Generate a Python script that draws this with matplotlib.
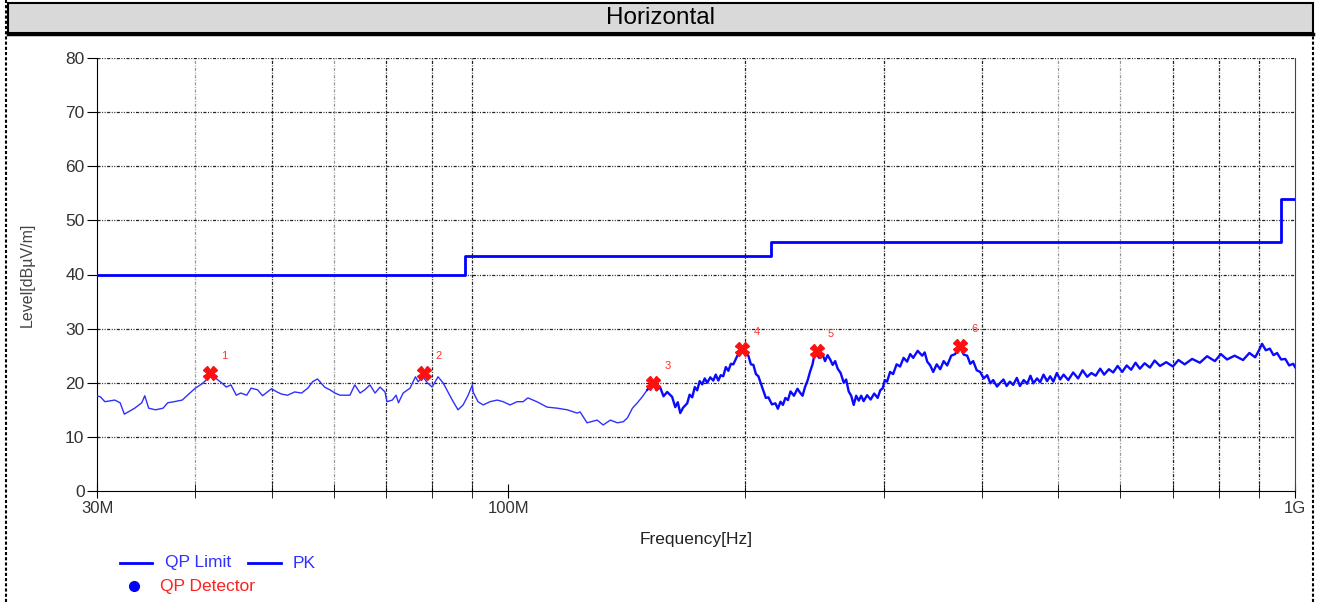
import matplotlib
matplotlib.use("Agg")
import matplotlib.pyplot as plt
from matplotlib.lines import Line2D
from matplotlib.patches import Rectangle

plt.rcParams['font.family'] = ['Liberation Sans', 'DejaVu Sans']

# QP limit (MHz, dBuV/m)
lim_freq = [30, 88, 88, 216, 216, 960, 960, 1000]
lim_level = [40, 40, 43.5, 43.5, 46, 46, 54, 54]

# PK trace (MHz, dBuV/m)
pk_freq = [30.0, 30.3, 30.7, 31.6, 32.1, 32.5, 33.5, 34.2, 34.5, 34.9, 35.6, 36.4, 36.9, 37.6, 38.5,
           39.1, 40.0, 40.8, 41.7, 42.4, 43.2, 43.8, 44.4, 45.1, 45.7, 46.5, 47.1, 48.0, 48.7, 49.4,
           50.0, 50.8, 51.5, 52.4, 53.5, 54.6, 55.6, 56.4, 57.2, 58.4, 59.3, 60.2, 61.1, 62.9, 63.8,
           64.8, 65.7, 66.7, 67.7, 68.7, 69.7, 70.1, 71.2, 72.0, 72.5, 73.5, 75.0, 76.2, 76.8, 77.9,
           78.9, 80.0, 81.4, 82.6, 83.8, 85.1, 86.3, 87.6, 88.9, 90.0, 90.2, 91.5, 92.9, 94.8, 96.8,
           98.5, 100.5, 102.6, 104.4, 105.9, 108.7, 112.0, 115.4, 118.8, 122.3, 123.4, 125.9, 129.7,
           132.0, 134.8, 137.6, 140.0, 141.7, 143.8, 145.9, 148.0, 150.2, 152.8,
           154.3, 155.9, 157.5, 159.2, 161.5, 163.0, 164.2, 165.4, 166.8, 168.8, 170.0, 171.3, 172.6,
           173.8, 175.1, 176.4, 177.7, 179.0, 180.6, 182.2, 183.5, 184.9, 186.2, 187.6, 189.0, 190.4,
           191.8, 193.2, 195.5, 197.2, 198.9, 200.4, 201.9, 203.4, 204.9, 206.4, 207.9, 209.5, 211.0,
           212.5, 214.1, 216.3, 218.5, 220.1, 221.8, 223.4, 225.0, 226.7, 228.4, 230.7, 233.1, 234.8,
           236.6, 238.3, 240.1, 241.8, 243.6, 244.7, 245.8, 248.3, 250.9, 252.7, 254.6, 256.5, 258.4,
           260.3, 262.2, 264.5, 266.9, 268.8, 270.8, 272.8, 274.8, 276.8, 278.9, 280.9, 282.9, 285.8,
           288.8, 291.8, 294.8, 297.0, 299.2, 301.0, 303.0, 305.7, 308.4, 311.6, 314.8, 318.0, 321.3,
           324.2, 327.1, 331.4, 335.8, 338.3, 340.8, 343.8, 346.8, 350.4, 354.0, 357.6, 361.3, 365.6,
           369.9, 372.6, 375.3, 379.2, 383.1, 386.5, 389.9, 393.9, 397.9,
           402, 406.2, 410, 413.4, 418, 422.0, 426, 430, 434, 438.3, 443, 447, 452, 456.6, 461, 465,
           470, 474.3, 479, 484, 488.4, 493, 498, 502.9, 508, 515, 522.4, 530, 537, 544.3, 551, 558,
           565.4, 572, 580, 587.3, 595, 603, 611, 619, 627, 635, 644, 654, 663, 673.5, 686, 699.5,
           711, 724, 740, 757, 773, 791, 805, 819.6, 838, 859, 875, 890, 900, 908.1, 918, 929, 939,
           949, 960, 972, 983, 994.8, 1000]
pk_level = [17.6, 17.4, 16.5, 16.8, 16.3, 14.2, 15.3, 16.3, 17.6, 15.3, 15.0, 15.3, 16.3, 16.5, 16.8,
            17.7, 19.0, 19.8, 21.1, 20.9, 20.0, 19.2, 19.6, 17.7, 18.1, 17.7, 19.0, 18.7, 17.6, 18.3,
            18.9, 18.3, 17.9, 17.7, 18.3, 18.1, 19.0, 20.2, 20.7, 19.2, 18.7, 18.1, 17.7, 17.7, 19.6,
            18.1, 18.7, 19.6, 18.1, 19.2, 18.3, 16.5, 16.8, 17.7, 16.3, 18.1, 19.0, 21.1, 20.2, 21.1,
            20.0, 19.2, 21.1, 20.0, 18.3, 16.5, 15.0, 15.9, 17.7, 19.6, 18.3, 16.5, 15.9, 16.5, 16.8,
            16.5, 15.9, 16.5, 16.5, 17.2, 16.5, 15.5, 15.3, 15.0, 14.4, 14.6, 12.6, 13.1,
            12.2, 13.1, 12.6, 12.8, 13.5, 15.3, 16.3, 17.4, 18.7, 20.0,
            18.6, 19.2, 17.5, 18.3, 17.4, 15.5, 16.4, 14.4, 15.4, 16.2, 17.8, 17.3, 19.2,
            18.6, 20.3, 19.7, 20.8, 20.0, 21.0, 20.4, 21.5, 20.4, 21.4, 21.2, 22.9, 22.2,
            23.5, 23.4, 25.0, 25.5, 26.1, 25.4, 25.0, 23.4, 23.3, 21.6, 21.2, 19.8, 18.5,
            17.2, 17.3, 16.0, 16.2, 15.2, 16.5, 15.9, 17.2, 16.8, 18.4, 17.6, 18.9, 18.2,
            17.6, 19.2, 20.4, 22.0, 23.4, 24.8, 25.7, 24.6, 25.2, 24.0, 25.1, 24.3, 23.3,
            24.0, 22.6, 21.8, 20.0, 20.6, 18.4, 17.6, 15.9, 17.6, 16.7, 17.6, 16.6, 17.7,
            16.9, 18.0, 17.2, 18.6, 19.0, 20.5, 20.2, 22.0, 21.6, 23.4, 23.0, 24.6, 23.9,
            25.3, 24.6, 25.9, 25.0, 25.6, 23.9, 23.2, 22.0, 23.4, 22.5, 24.0, 23.2, 25.0,
            25.3, 26.2, 26.5, 25.2, 25.0, 23.5, 24.0, 22.3, 22.0,
            20.8, 21.4, 19.9, 20.5, 19.3, 20.0, 20.6, 19.4, 20.2, 19.6, 20.9, 19.4, 20.5, 19.8, 21.3, 19.9,
            20.8, 20.1, 21.5, 20.3, 21.2, 20.2, 21.8, 20.6, 21.5, 20.5, 21.9, 20.8, 22.3, 21.1, 21.8, 21.3,
            22.6, 21.5, 22.5, 21.9, 23.1, 22.0, 23.2, 22.4, 23.7, 22.6, 23.6, 22.8, 24.1, 23.1, 23.8, 23.0,
            24.2, 23.4, 24.4, 23.7, 24.9, 24.0, 25.3, 24.3, 25.0, 24.2, 25.5, 24.7, 26.0, 27.2, 26.0, 26.3, 25.1,
            25.5, 24.3, 24.4, 23.2, 23.5, 22.9]

# final measurement markers
mk_freq = [41.8, 78.2, 152.8, 198.4, 246.6, 375.0]
mk_level = [21.8, 21.8, 20.0, 26.2, 25.9, 26.8]
mk_labels = ['1', '2', '3', '4', '5', '6']

x_ticks = [30, 100, 1000]
x_ticklabels = ['30M', '100M', '1G']
x_minor = [40, 50, 60, 70, 80, 90, 200, 300, 400, 500, 600, 700, 800, 900]
light_minor = [40, 60, 500, 600]

W, H = 1326, 602
fig = plt.figure(figsize=(W / 100, H / 100), dpi=100)

# page frame: title bar and dotted side borders
fig.patches.append(Rectangle((8 / W, 1 - 33 / H), 1305 / W, 30 / H, transform=fig.transFigure,
                             facecolor='#d9d9d9', edgecolor='black', lw=1.5))
fig.lines.append(Line2D([8 / W, 1313 / W], [1 - 34 / H, 1 - 34 / H], transform=fig.transFigure,
                        color='black', lw=2.5))
fig.lines.append(Line2D([6 / W, 6 / W], [0, 1], transform=fig.transFigure, color='black',
                        lw=1.5, ls=(0, (1.5, 1))))
fig.lines.append(Line2D([1313 / W, 1313 / W], [0, 1 - 34 / H], transform=fig.transFigure,
                        color='black', lw=1.5, ls=(0, (1.5, 1))))
fig.text(660 / W, 1 - 18 / H, 'Horizontal', ha='center', va='center', fontsize=17.5)

ax = fig.add_axes([97 / W, 1 - 491 / H, 1198 / W, 433 / H])
ax.set_xscale('log')
ax.set_xlim(30, 1000)
ax.set_ylim(0, 80)

for f in x_minor:
    ax.axvline(f, color='#999999' if f in light_minor else '#222222', lw=0.9,
               ls=(0, (2.5, 1.2, 0.8, 1.2)), zorder=1)
for lv in range(10, 90, 10):
    ax.axhline(lv, color='#222222', lw=0.9, ls=(0, (2.5, 1.2, 0.8, 1.2, 0.8, 1.2)), zorder=1)

ax.plot(lim_freq, lim_level, color='#0000ff', lw=2, zorder=3)
# the low band sweep is drawn thin, the dense upper sweep reads as a thick band
split = pk_freq.index(150.2)
ax.plot(pk_freq[:split + 1], pk_level[:split + 1], color='#3030ff', lw=1.0, zorder=3)
ax.plot(pk_freq[split:], pk_level[split:], color='#0a0aff', lw=1.7, zorder=3)
ax.plot(mk_freq, mk_level, ls='none', marker='X', ms=10, color='#ff1010', mec='#ff1010', zorder=4)
for f, lv, t in zip(mk_freq, mk_level, mk_labels):
    ax.annotate(t, (f, lv), xytext=(8, 10), textcoords='offset points', color='#ff3030',
                fontsize=8)

ax.set_xticks(x_ticks)
ax.set_xticklabels(x_ticklabels)
ax.set_xticks(x_minor, minor=True)
ax.xaxis.set_minor_formatter(plt.NullFormatter())
ax.set_yticks(range(0, 90, 10))
ax.tick_params(axis='x', which='major', direction='inout', length=10, labelsize=12,
               labelcolor='#333333', pad=2)
ax.tick_params(axis='x', which='minor', direction='inout', length=10)
ax.tick_params(axis='y', direction='out', length=7, labelsize=12.5, labelcolor='#333333', pad=2)
ax.spines['top'].set_visible(False)
ax.spines['right'].set_color('#444444')
ax.set_xlabel('Frequency[Hz]', fontsize=12.5, color='#222222', labelpad=12)
ax.set_ylabel('Level[dBµV/m]', fontsize=11.5, color='#444444', labelpad=22)

# legend drawn below the chart
fig.lines.append(Line2D([120 / W, 152 / W], [1 - 563 / H] * 2, transform=fig.transFigure,
                        color='#0000ff', lw=2))
fig.text(165 / W, 1 - 563 / H, 'QP Limit', color='#3030ff', fontsize=12.5, va='center')
fig.lines.append(Line2D([248 / W, 281 / W], [1 - 563 / H] * 2, transform=fig.transFigure,
                        color='#0000ff', lw=2))
fig.text(293 / W, 1 - 563 / H, 'PK', color='#3030ff', fontsize=12.5, va='center')
fig.lines.append(Line2D([134 / W], [1 - 586 / H], transform=fig.transFigure, marker='o',
                        ms=7, color='#0000ff', ls='none'))
fig.text(160 / W, 1 - 586 / H, 'QP Detector', color='#ff2020', fontsize=12.5, va='center')

fig.savefig('out.png', dpi=100)
